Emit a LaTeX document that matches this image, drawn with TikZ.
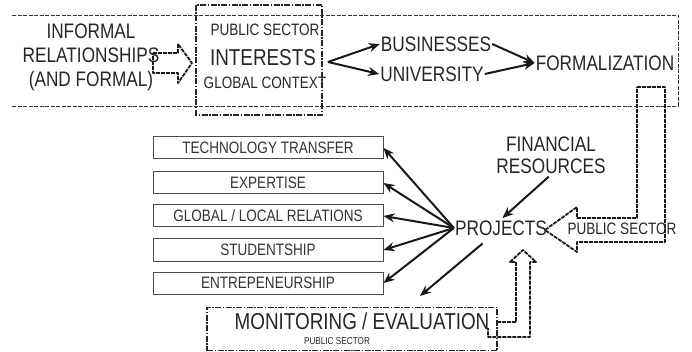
\documentclass[tikz,border=0pt]{standalone}
\usepackage{fontspec}
\setmainfont{Liberation Sans}[FakeStretch=0.82]
\usetikzlibrary{arrows.meta,positioning}

\tikzset{
  txt/.style={inner sep=1pt, text=black!85, font=\fontsize{21}{24}\selectfont},
  bigtxt/.style={txt, font=\fontsize{23}{26}\selectfont},
  smalltxt/.style={txt, font=\fontsize{16.5}{19}\selectfont},
  tinytxt/.style={txt, font=\fontsize{10}{12}\selectfont},
  itembox/.style={draw=black!70, line width=1pt, minimum width=230pt, minimum height=22pt, inner sep=0pt, text=black!80, font=\fontsize{16.5}{19}\selectfont},
  arr/.style={-{Stealth[length=11pt,width=9pt]}, line width=2pt, black!90},
  band/.style={black!80, line width=0.9pt, dash pattern=on 4pt off 1.5pt},
  dashdotbox/.style={black!85, line width=1.4pt, dash pattern=on 6pt off 1.5pt on 1.5pt off 1.5pt},
  hollow/.style={black!90, line width=1.8pt, dash pattern=on 4pt off 1pt, line join=round}
}

\begin{document}
\begin{tikzpicture}[x=1pt,y=-1pt]
\useasboundingbox (0,0) rectangle (692,352);
% upper band
\draw[band] (12,15) -- (678,15) -- (678,106) -- (12,106);
\draw[dashdotbox] (196,5) rectangle (322,115);
\node[txt, align=center] (informal) at (91,57) {INFORMAL\\RELATIONSHIPS\\(AND FORMAL)};
\draw[hollow] (153,53) -- (178,53) -- (178,44) -- (192,63) -- (178,83) -- (178,73) -- (153,73) -- cycle;
\node[smalltxt] (pubsec) at (265,30) {PUBLIC SECTOR};
\node[bigtxt] (interests) at (263,58) {INTERESTS};
\node[smalltxt] (global) at (265,83) {GLOBAL CONTEXT};
\node[txt] (business) at (436,44) {BUSINESSES};
\node[txt] (univ) at (432,74) {UNIVERSITY};
\node[txt] (formal) at (605,63) {FORMALIZATION};
\coordinate (split) at (328,62);
\draw[arr] (split) -- (business.west);
\draw[arr] (split) -- (univ.west);
\draw[arr] (business.east) -- (formal.west);
\draw[arr] (univ.east) -- (formal.west);
% public sector feed
\draw[hollow] (637,87) -- (665,87) -- (665,242) -- (577,242) -- (577,252) -- (545,230) -- (577,207) -- (577,218) -- (637,218) -- cycle;
\node[smalltxt] (pubsec2) at (622,229) {PUBLIC SECTOR};
% projects and outputs
\node[txt, align=center, font=\fontsize{21}{22}\selectfont] (fin) at (551,155) {FINANCIAL\\RESOURCES};
\node[txt] (projects) at (501,228) {PROJECTS};
\draw[arr, shorten <=3pt, shorten >=2pt] (fin.south) -- (projects.north);
\node[itembox] (tech) at (268,148) {TECHNOLOGY TRANSFER};
\node[itembox] (expert) at (268,183) {EXPERTISE};
\node[itembox] (relations) at (268,216) {GLOBAL / LOCAL RELATIONS};
\node[itembox] (student) at (268,250) {STUDENTSHIP};
\node[itembox] (entre) at (268,283) {ENTREPENEURSHIP};
\draw[arr] (projects.west) -- (tech.east);
\draw[arr] (projects.west) -- (expert.east);
\draw[arr] (projects.west) -- (relations.east);
\draw[arr] (projects.west) -- (student.east);
\draw[arr] (projects.west) -- (entre.east);
% monitoring
\node[draw, dashdotbox, minimum width=290pt, minimum height=43pt] (monbox) at (352,329) {};
\node[bigtxt] (monitor) at (362,321) {MONITORING / EVALUATION};
\node[tinytxt] (pubsec3) at (337,341) {PUBLIC SECTOR};
\coordinate (montip) at (420,296);
\draw[arr, shorten <=24pt] (projects.center) -- (montip);
\draw[hollow] (497,322) -- (516,322) -- (516,262) -- (510,262) -- (523,250) -- (536,262) -- (530,262) -- (530,337) -- (488,337) -- (488,328);
\end{tikzpicture}
\end{document}
